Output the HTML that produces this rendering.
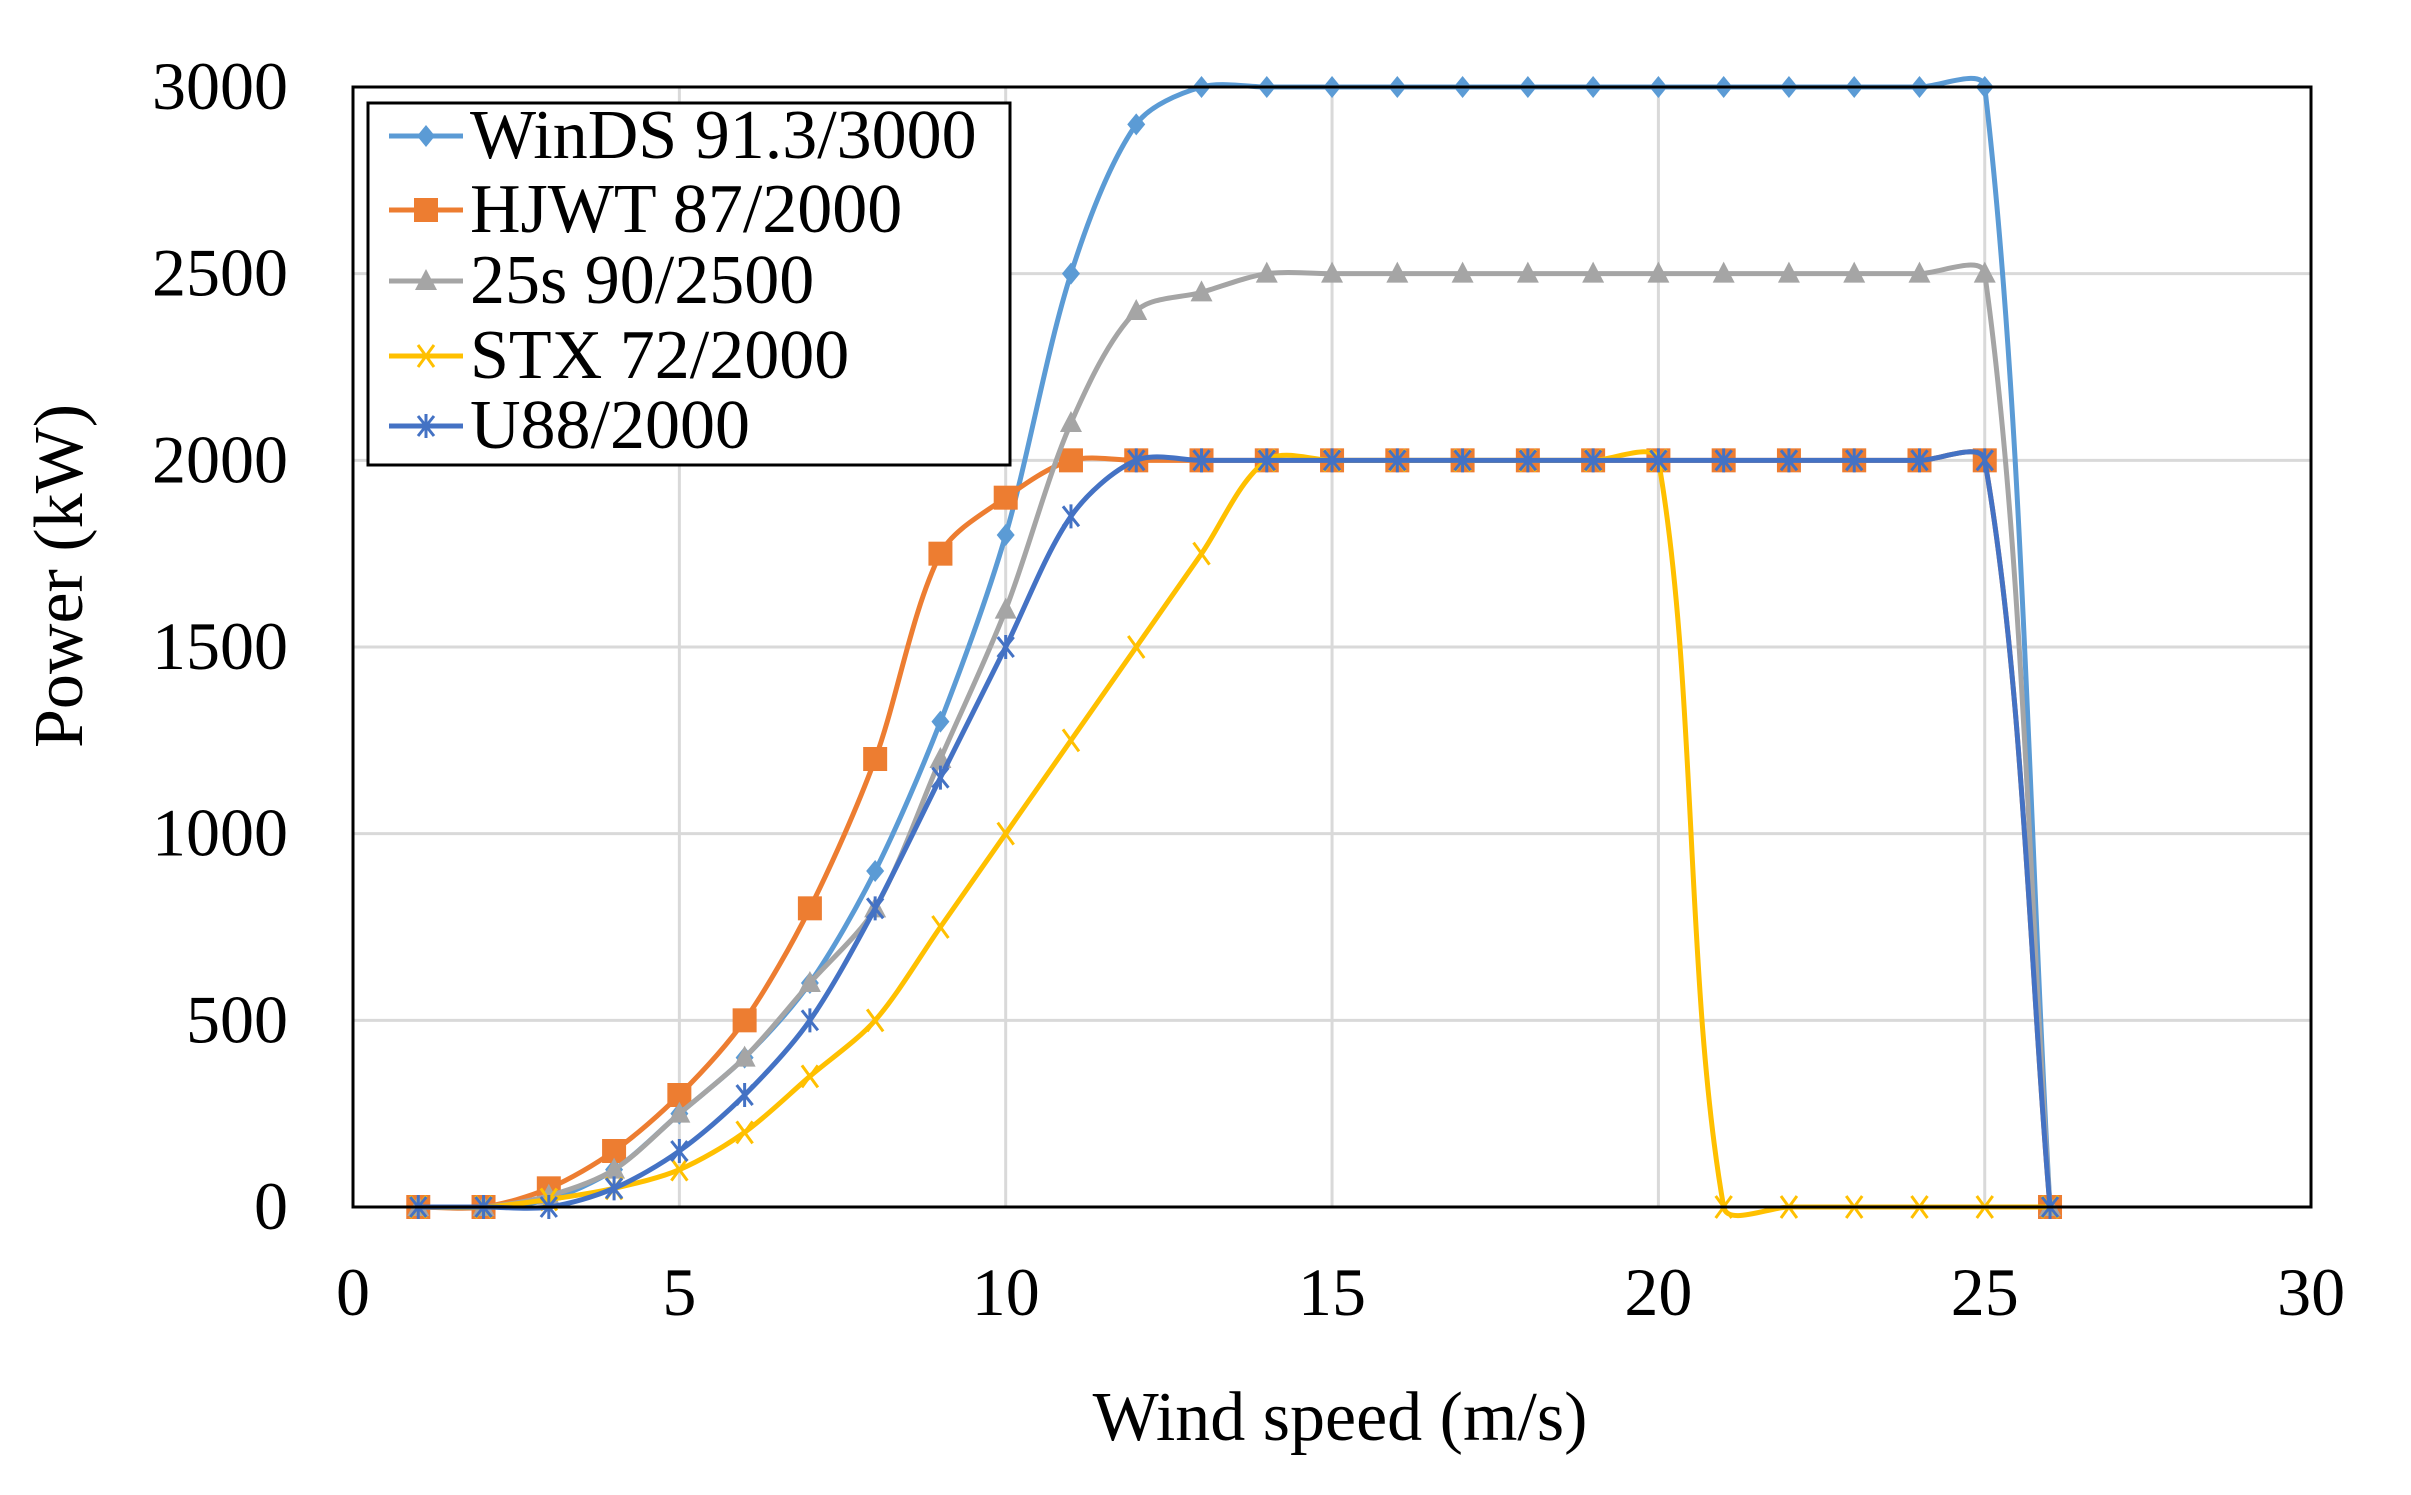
<!DOCTYPE html>
<html><head><meta charset="utf-8"><style>
html,body{margin:0;padding:0;background:#fff;}
svg{display:block;}
text{font-family:"Liberation Serif",serif;fill:#000;}
</style></head><body>
<svg id="s" width="2411" height="1495" viewBox="0 0 2411 1495" xmlns="http://www.w3.org/2000/svg">
<rect width="2411" height="1495" fill="#fff"/>
<g id="grid" stroke="#d9d9d9" stroke-width="3"></g>
<g id="series"></g>
<rect x="353" y="87" width="1958" height="1120" fill="none" stroke="#000" stroke-width="3"/>
<g id="labels" font-size="68"></g>
<text x="1340" y="1440" font-size="70" text-anchor="middle">Wind speed (m/s)</text>
<text transform="translate(82,576) rotate(-90)" font-size="70" text-anchor="middle">Power (kW)</text>
<g id="legend"></g>
</svg>
<script>
const NS="http://www.w3.org/2000/svg";
const X=x=>353+x*65.27, Y=y=>1207-y*0.37333;
function el(t,a,p){const e=document.createElementNS(NS,t);for(const k in a)e.setAttribute(k,a[k]);p.appendChild(e);return e;}
const g=document.getElementById('grid'),lb=document.getElementById('labels');
for(let v=500;v<3000;v+=500)el('line',{x1:353,x2:2311,y1:Y(v),y2:Y(v)},g);
for(let v=5;v<30;v+=5)el('line',{x1:X(v),x2:X(v),y1:87,y2:1207},g);
for(let v=0;v<=3000;v+=500){const t=el('text',{x:288,y:Y(v)+22,'text-anchor':'end'},lb);t.textContent=v;}
for(let v=0;v<=30;v+=5){const t=el('text',{x:X(v),y:1315,'text-anchor':'middle'},lb);t.textContent=v;}
const S=[
 {n:'WinDS 91.3/3000',c:'#5B9BD5',m:'d',d:[0,0,20,100,250,400,600,900,1300,1800,2500,2900,3000,3000,3000,3000,3000,3000,3000,3000,3000,3000,3000,3000,3000,0]},
 {n:'HJWT 87/2000',c:'#ED7D31',m:'s',d:[0,0,50,150,300,500,800,1200,1750,1900,2000,2000,2000,2000,2000,2000,2000,2000,2000,2000,2000,2000,2000,2000,2000,0]},
 {n:'25s 90/2500',c:'#A5A5A5',m:'t',d:[0,0,30,100,250,400,600,800,1200,1600,2100,2400,2450,2500,2500,2500,2500,2500,2500,2500,2500,2500,2500,2500,2500,0]},
 {n:'STX 72/2000',c:'#FFC000',m:'x',d:[0,0,20,50,100,200,350,500,750,1000,1250,1500,1750,2000,2000,2000,2000,2000,2000,2000,0,0,0,0,0,0]},
 {n:'U88/2000',c:'#4472C4',m:'a',d:[0,0,0,50,150,300,500,800,1150,1500,1850,2000,2000,2000,2000,2000,2000,2000,2000,2000,2000,2000,2000,2000,2000,0]}
];
function marker(m,x,y,c,p){
 if(m==='d')el('polygon',{points:`${x},${y-11} ${x+9},${y} ${x},${y+11} ${x-9},${y}`,fill:c},p);
 else if(m==='s')el('rect',{x:x-12,y:y-12,width:24,height:24,fill:c},p);
 else if(m==='t')el('polygon',{points:`${x},${y-12} ${x+11},${y+9} ${x-11},${y+9}`,fill:c},p);
 else if(m==='x'){el('path',{d:`M${x-8},${y-11}L${x+8},${y+11}M${x+8},${y-11}L${x-8},${y+11}`,stroke:c,'stroke-width':3,fill:'none'},p);}
 else {el('path',{d:`M${x-8},${y-10}L${x+8},${y+10}M${x+8},${y-10}L${x-8},${y+10}M${x},${y-12}L${x},${y+12}`,stroke:c,'stroke-width':3,fill:'none'},p);}
}
const U=(a,b)=>{const dx=b[0]-a[0],dy=b[1]-a[1],l=Math.hypot(dx,dy)||1;return [dx/l,dy/l];};
const sg=document.getElementById('series');
const K=0.3;
S.forEach(s=>{
 const P=s.d.map((v,i)=>[X(i+1),Y(v)]);
 let d=`M${P[0][0]},${P[0][1]}`;
 for(let i=0;i<P.length-1;i++){
  const p0=P[Math.max(0,i-1)],p1=P[i],p2=P[i+1],p3=P[Math.min(P.length-1,i+2)];
  const L=Math.hypot(p2[0]-p1[0],p2[1]-p1[1]);
  const t1=U(p0,p2),t2=U(p1,p3);
  const c1=[p1[0]+t1[0]*L*K,p1[1]+t1[1]*L*K],c2=[p2[0]-t2[0]*L*K,p2[1]-t2[1]*L*K];
  d+=`C${c1[0]},${c1[1]} ${c2[0]},${c2[1]} ${p2[0]},${p2[1]}`;
 }
 el('path',{d,stroke:s.c,'stroke-width':5,fill:'none','stroke-linejoin':'round'},sg);
 P.forEach(p=>marker(s.m,p[0],p[1],s.c,sg));
});
const lg=document.getElementById('legend');
el('rect',{x:368,y:103,width:642,height:362,fill:'#fff',stroke:'#000','stroke-width':3},lg);
const bl=[158,232,303,378,448];
S.forEach((s,i)=>{
 const yc=bl[i]-22;
 el('line',{x1:389,x2:463,y1:yc,y2:yc,stroke:s.c,'stroke-width':5},lg);
 marker(s.m,426,yc,s.c,lg);
 const t=el('text',{x:470,y:bl[i],'font-size':70},lg);t.textContent=s.n;
});
</script>
</body></html>
